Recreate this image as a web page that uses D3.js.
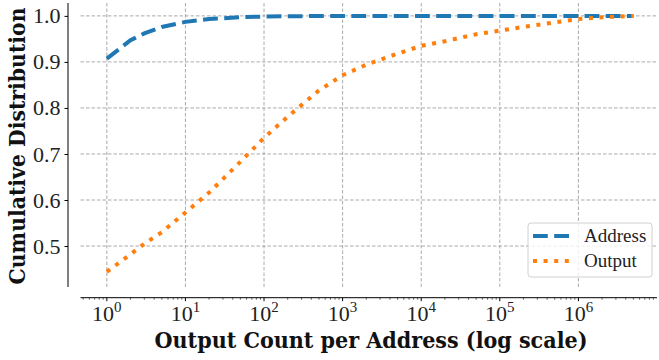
<!DOCTYPE html>
<html>
<head>
<meta charset="utf-8">
<script src="https://cdn.jsdelivr.net/npm/d3@7"></script>
<style>
  body { margin: 0; background: #fff; }
  svg { display: block; }
</style>
</head>
<body>
<div id="chart"></div>
<script>
// output count per address (x values), and cumulative fractions
var counts = [1, 2, 3, 5, 10, 20, 50, 100, 200, 500, 1000, 2000, 5000,
              1e4, 2e4, 5e4, 1e5, 2e5, 5e5, 1e6, 2e6, 5e6];
var addressCdf = [0.907, 0.947, 0.962, 0.976, 0.987, 0.993, 0.997, 0.9985, 0.9992, 0.9997, 0.9999, 1.0, 1.0,
                  1.0, 1.0, 1.0, 1.0, 1.0, 1.0, 1.0, 1.0, 1.0];
var outputCdf = [0.444, 0.482, 0.505, 0.530, 0.573, 0.616, 0.683, 0.735, 0.781, 0.838, 0.871, 0.894, 0.918,
                 0.935, 0.945, 0.960, 0.968, 0.976, 0.986, 0.993, 0.997, 1.0];
var seriesNames = ["Address", "Output"];
var seriesColors = ["#1f77b4", "#ff7f0e"];
var yTicks = [0.5, 0.6, 0.7, 0.8, 0.9, 1.0];
var xTicks = [1, 10, 100, 1000, 1e4, 1e5, 1e6];

var SERIF = "'Liberation Serif', serif",
    BOLD = "'DejaVu Serif Condensed', 'DejaVu Serif', serif";

var W = 659, H = 360;
var box = {left: 80.5, right: 657, top: 3, bottom: 287};

var xScale = d3.scaleLog().domain([Math.pow(10, -0.335), 1e7]).range([box.left, box.right]),
    yScale = d3.scaleLinear().domain([0.411, 1.028]).range([box.bottom, box.top]);

var svg = d3.select("#chart").append("svg")
    .attr("width", W)
    .attr("height", H);

// grid
var grid = svg.append("g").attr("class", "grid");
grid.selectAll(".gx").data(xTicks).enter().append("line")
    .attr("x1", function(d) { return xScale(d); })
    .attr("x2", function(d) { return xScale(d); })
    .attr("y1", box.top).attr("y2", box.bottom)
    .attr("stroke", "#a0a0a0").attr("stroke-width", 0.9)
    .attr("stroke-dasharray", "3.5,2");
grid.selectAll(".gy").data(yTicks).enter().append("line")
    .attr("x1", box.left).attr("x2", box.right)
    .attr("y1", function(d) { return yScale(d); })
    .attr("y2", function(d) { return yScale(d); })
    .attr("stroke", "#a0a0a0").attr("stroke-width", 0.9)
    .attr("stroke-dasharray", "3.5,2");

// y axis (offset spine)
var yAxis = d3.axisLeft(yScale).tickValues(yTicks).tickSize(3.5).tickPadding(4)
    .tickFormat(d3.format(".1f"));
var gy = svg.append("g")
    .attr("transform", "translate(68,0)")
    .call(yAxis);
gy.select(".domain").attr("d", "M0," + box.top + "V" + box.bottom).attr("stroke", "#000").attr("stroke-width", 1);
gy.selectAll(".tick line").attr("stroke", "#000").attr("stroke-width", 1);
gy.selectAll(".tick text")
    .style("font-family", SERIF)
    .style("font-size", "22px")
    .attr("fill", "#222");

// x axis (offset spine)
var xAxisY = 297.7;
var gx = svg.append("g").attr("transform", "translate(0," + xAxisY + ")");
gx.append("line")
    .attr("x1", box.left).attr("x2", box.right)
    .attr("stroke", "#000").attr("stroke-width", 1);

var minor = [];
for (var e = -1; e < 7; e++) {
  for (var m = 2; m < 10; m++) {
    var v = m * Math.pow(10, e);
    if (xScale(v) >= box.left && xScale(v) <= box.right) minor.push(v);
  }
}
gx.selectAll(".minor").data(minor).enter().append("line")
    .attr("x1", function(d) { return xScale(d); })
    .attr("x2", function(d) { return xScale(d); })
    .attr("y1", 0).attr("y2", 2)
    .attr("stroke", "#000").attr("stroke-width", 0.6);
gx.selectAll(".major").data(xTicks).enter().append("line")
    .attr("x1", function(d) { return xScale(d); })
    .attr("x2", function(d) { return xScale(d); })
    .attr("y1", 0).attr("y2", 3.5)
    .attr("stroke", "#000").attr("stroke-width", 1);

var xl = gx.selectAll(".xl").data(xTicks).enter().append("text")
    .attr("x", function(d) { return xScale(d); })
    .attr("y", 23)
    .attr("text-anchor", "middle")
    .style("font-family", SERIF)
    .style("font-size", "22px")
    .attr("fill", "#222");
xl.append("tspan").text("10");
xl.append("tspan")
    .attr("dy", -9)
    .style("font-size", "15px")
    .text(function(d) { return Math.round(Math.log10(d)); });

// lines
var data = [addressCdf, outputCdf];
var dashes = ["14.8,6.4", "4,6.6"];
var line = d3.line()
    .x(function(d, i) { return xScale(counts[i]); })
    .y(function(d) { return yScale(d); });

svg.append("g").selectAll("path").data(data).enter().append("path")
    .attr("d", line)
    .attr("fill", "none")
    .attr("stroke", function(d, i) { return seriesColors[i]; })
    .attr("stroke-width", 4)
    .attr("stroke-dasharray", function(d, i) { return dashes[i]; });

// labels, font size fitted to the reference width
function fitText(sel, target) {
  var w = sel.node().getComputedTextLength();
  var fs = parseFloat(sel.style("font-size"));
  sel.style("font-size", (fs * target / w) + "px");
}

var xLabel = svg.append("text")
    .attr("x", 371).attr("y", 348)
    .attr("text-anchor", "middle")
    .style("font-family", BOLD)
    .style("font-weight", "bold")
    .style("font-size", "20px")
    .attr("fill", "#111")
    .text("Output Count per Address (log scale)");
fitText(xLabel, 433);

var yLabel = svg.append("text")
    .attr("transform", "translate(25,146) rotate(-90)")
    .attr("text-anchor", "middle")
    .style("font-family", BOLD)
    .style("font-weight", "bold")
    .style("font-size", "20px")
    .attr("fill", "#111")
    .text("Cumulative Distribution");
fitText(yLabel, 277);

// legend
var legend = svg.append("g").attr("transform", "translate(528,223)");
legend.append("rect")
    .attr("width", 124).attr("height", 54)
    .attr("rx", 3)
    .attr("fill", "#fff").attr("fill-opacity", 0.8)
    .attr("stroke", "#d0d0d0").attr("stroke-width", 1);
var item = legend.selectAll(".item").data(seriesNames).enter().append("g")
    .attr("transform", function(d, i) { return "translate(0," + (13 + i * 25) + ")"; });
item.append("line")
    .attr("x1", 5).attr("x2", 42)
    .attr("stroke", function(d, i) { return seriesColors[i]; })
    .attr("stroke-width", 4)
    .attr("stroke-dasharray", function(d, i) { return dashes[i]; });
item.append("text")
    .attr("x", 56).attr("y", 6)
    .style("font-family", SERIF)
    .style("font-size", "19px")
    .attr("fill", "#222")
    .text(function(d) { return d; });
</script>
</body>
</html>
